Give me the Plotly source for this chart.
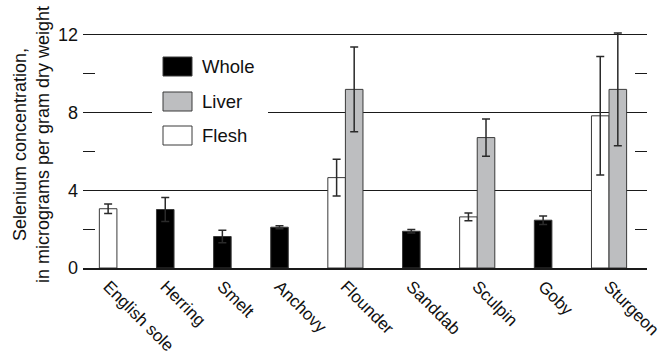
import plotly.graph_objects as go

# Selenium concentration by fish species and tissue (micrograms per gram dry weight)
species = ["English sole", "Herring", "Smelt", "Anchovy", "Flounder",
           "Sanddab", "Sculpin", "Goby", "Sturgeon"]

whole = [None, 3.01, 1.62, 2.10, None, 1.89, None, 2.46, None]
whole_err = [None, 0.62, 0.32, 0.08, None, 0.09, None, 0.22, None]

liver = [None, None, None, None, 9.19, None, 6.71, None, 9.19]
liver_err = [None, None, None, None, 2.18, None, 0.96, None, 2.90]

flesh = [3.05, None, None, None, 4.65, None, 2.63, None, 7.83]
flesh_err = [0.24, None, None, None, 0.95, None, 0.20, None, 3.05]

y_ticks = [0, 4, 8, 12]

FONT = "Liberation Sans, Arial, Helvetica, sans-serif"

series = [
    ("Flesh", flesh, flesh_err, "#ffffff"),
    ("Liver", liver, liver_err, "#bdbec0"),
    ("Whole", whole, whole_err, "#000000"),
]

# Bars within a species sit side by side (one unit wide each); species
# groups are separated by a constant gap.
GAP = 2.25
positions = {name: ([], [], []) for name, *_ in series}
tick_pos = []
cursor = 0.0
for i, sp in enumerate(species):
    present = [(name, vals[i], errs[i]) for name, vals, errs, _ in series if vals[i] is not None]
    for k, (name, v, e) in enumerate(present):
        xs, ys, es = positions[name]
        xs.append(cursor + k + 0.5)
        ys.append(v)
        es.append(e)
    tick_pos.append(cursor + len(present) / 2)
    cursor += len(present) + GAP
x_end = cursor - GAP

fig = go.Figure()
for name, vals, errs, color in series:
    xs, ys, es = positions[name]
    fig.add_trace(go.Bar(
        x=xs, y=ys, name=name, width=1.0,
        marker=dict(color=color, line=dict(color="#3a3a3a", width=1)),
        error_y=dict(type="data", array=es, visible=True,
                     color="#2a2a2a", thickness=1.5, width=4),
        showlegend=False,
    ))

W, H = 664, 360
L, R, T, B = 83, 17, 27, 92
pw, ph = W - L - R, H - T - B
y_max = 12.4


def px_x(p):
    return (p - L) / pw


def px_y(p):
    return (H - B - p) / ph


fig.update_layout(
    width=W, height=H,
    margin=dict(l=L, r=R, t=T, b=B),
    paper_bgcolor="white", plot_bgcolor="white",
    barmode="overlay",
    font=dict(family=FONT, size=18, color="#111111"),
    xaxis=dict(
        range=[-0.93, x_end + 1.16],
        tickvals=tick_pos, ticktext=species, tickangle=45,
        showgrid=False, zeroline=False,
        showline=True, linecolor="#1a1a1a", linewidth=1.5,
        ticks="", tickfont=dict(size=17),
        automargin=False, ticklabeloverflow="allow",
    ),
    yaxis=dict(
        range=[0, y_max],
        tickvals=y_ticks, ticktext=[str(t) for t in y_ticks],
        showgrid=True, gridcolor="#1a1a1a", gridwidth=1.3,
        zeroline=False, showline=False,
        ticks="inside", ticklen=12, tickcolor="#1a1a1a", tickwidth=1.3,
        mirror="ticks",
        minor=dict(dtick=2, ticks="inside", ticklen=12,
                   tickcolor="#1a1a1a", tickwidth=1.3, showgrid=False),
        tickfont=dict(size=18),
        ticklabelstandoff=4,
        automargin=False,
    ),
)

# Legend panel
shapes = [dict(type="rect", xref="paper", yref="paper",
               x0=px_x(152), x1=px_x(268), y0=px_y(150), y1=px_y(50),
               fillcolor="white", line=dict(width=0), layer="above")]
annotations = []
legend_rows = [("Whole", "#000000", 57), ("Liver", "#bdbec0", 92), ("Flesh", "#ffffff", 126)]
for label, color, top in legend_rows:
    shapes.append(dict(type="rect", xref="paper", yref="paper",
                       x0=px_x(163), x1=px_x(192), y0=px_y(top + 19), y1=px_y(top),
                       fillcolor=color, line=dict(color="#3a3a3a", width=1),
                       layer="above"))
    annotations.append(dict(text=label, xref="paper", yref="paper",
                            x=px_x(200), y=px_y(top + 9.5),
                            xanchor="left", yanchor="middle", showarrow=False,
                            font=dict(size=18.5)))

annotations.append(dict(
    text="Selenium concentration,<br>in micrograms per gram dry weight",
    xref="paper", yref="paper", x=px_x(31), y=px_y(145),
    xanchor="center", yanchor="middle", textangle=-90, align="center",
    showarrow=False, font=dict(size=18),
))

fig.update_layout(shapes=shapes, annotations=annotations)

fig.write_html("out.html")
